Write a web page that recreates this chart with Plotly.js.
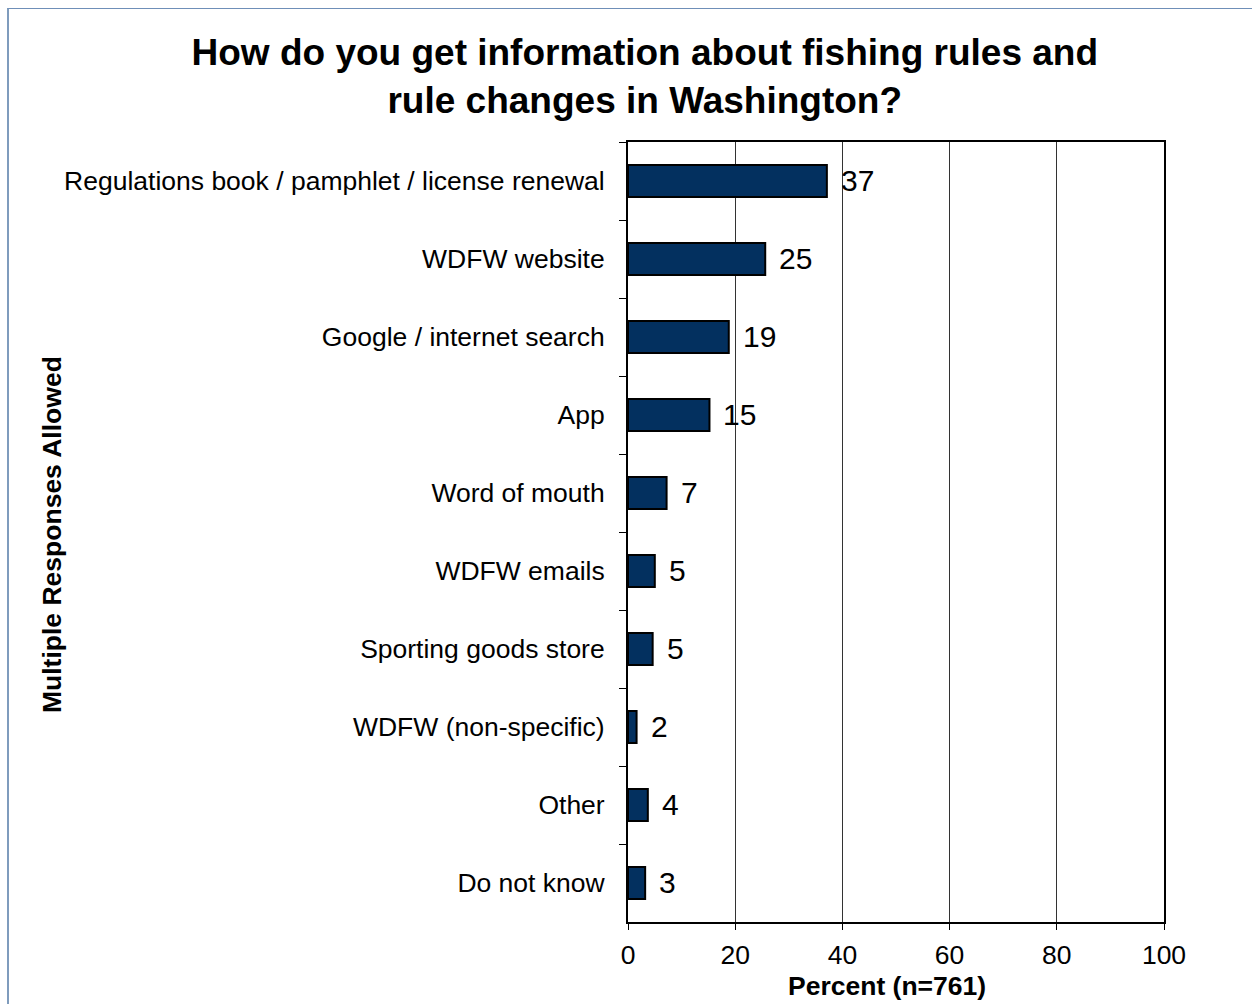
<!DOCTYPE html>
<html>
<head>
<meta charset="utf-8">
<script src="https://cdn.plot.ly/plotly-3.0.1.min.js"></script>
<style>
  html, body { margin: 0; padding: 0; background: #fff; }
  #wrap { position: relative; width: 1252px; height: 1004px; overflow: hidden; }
  #chart { position: absolute; left: 0; top: 0; width: 1252px; height: 1004px; }
  #frame { position: absolute; left: 7px; top: 8px; width: 1300px; height: 1100px;
           border-left: 2px solid #7f9cbd; border-top: 1px solid #6f8fb8; pointer-events: none; }
</style>
</head>
<body>
<div id="wrap">
  <div id="chart"></div>
  <div id="frame"></div>
</div>
<script>
const categories = [
  "Regulations book / pamphlet / license renewal",
  "WDFW website",
  "Google / internet search",
  "App",
  "Word of mouth",
  "WDFW emails",
  "Sporting goods store",
  "WDFW (non-specific)",
  "Other",
  "Do not know"
];
const values = [37.1, 25.6, 18.8, 15.2, 7.2, 5.0, 4.6, 1.6, 3.7, 3.2];
const labels = ["37", "25", "19", "15", "7", "5", "5", "2", "4", "3"];
const xTicks = [0, 20, 40, 60, 80, 100];

const FONT = "Liberation Sans, Arial, sans-serif";

const trace = {
  type: "bar",
  orientation: "h",
  y: categories,
  x: values,
  marker: { color: "#03305f", line: { color: "#000", width: 2 } },
  hoverinfo: "skip"
};

const valueLabels = categories.map((c, i) => ({
  x: values[i], y: c, xref: "x", yref: "y",
  text: labels[i], showarrow: false,
  xanchor: "left", yanchor: "middle", xshift: 12, yshift: 1,
  font: { family: FONT, size: 30, color: "#000" }
}));

const layout = {
  width: 1252,
  height: 1004,
  paper_bgcolor: "#fff",
  plot_bgcolor: "#fff",
  margin: { l: 628, r: 88, t: 142, b: 82, pad: 0 },
  showlegend: false,
  bargap: 0.59,
  title: {
    text: "How do you get information about fishing rules and<br>rule changes in Washington?",
    font: { family: FONT, size: 37, color: "#000", weight: "bold" },
    x: 0.515, xanchor: "center",
    y: 0.935, yanchor: "top"
  },
  xaxis: {
    range: [0, 100],
    tickvals: xTicks,
    ticktext: xTicks.map(String),
    ticks: "outside",
    ticklen: 6,
    tickcolor: "#000",
    tickfont: { family: FONT, size: 26.5, color: "#000" },
    ticklabelstandoff: 2,
    showgrid: true,
    gridcolor: "#333",
    gridwidth: 1,
    zeroline: false,
    showline: true,
    linecolor: "#000",
    linewidth: 2,
    mirror: true,
    fixedrange: true,
    title: { text: "" }
  },
  yaxis: {
    type: "category",
    autorange: "reversed",
    tickson: "boundaries",
    ticks: "outside",
    ticklen: 7,
    tickcolor: "#000",
    tickfont: { family: FONT, size: 26.5, color: "#000" },
    ticklabelstandoff: 16,
    showgrid: false,
    zeroline: false,
    showline: true,
    linecolor: "#000",
    linewidth: 2,
    mirror: true,
    fixedrange: true,
    title: { text: "" }
  },
  annotations: valueLabels.concat([{
    text: "<b>Multiple Responses Allowed</b>",
    xref: "paper", yref: "paper",
    x: (52 - 628) / 536, y: (1004 - 82 - 535) / 780,
    xanchor: "center", yanchor: "middle",
    textangle: -90,
    showarrow: false,
    font: { family: FONT, size: 26.5, color: "#000" }
  }, {
    text: "<b>Percent (n=761)</b>",
    xref: "paper", yref: "paper",
    x: (886.5 - 628) / 536, y: -(986 - 922) / 780,
    xanchor: "center", yanchor: "middle",
    showarrow: false,
    font: { family: FONT, size: 26.5, color: "#000" }
  }])
};

Plotly.newPlot("chart", [trace], layout, { displayModeBar: false, staticPlot: true });
</script>
</body>
</html>
